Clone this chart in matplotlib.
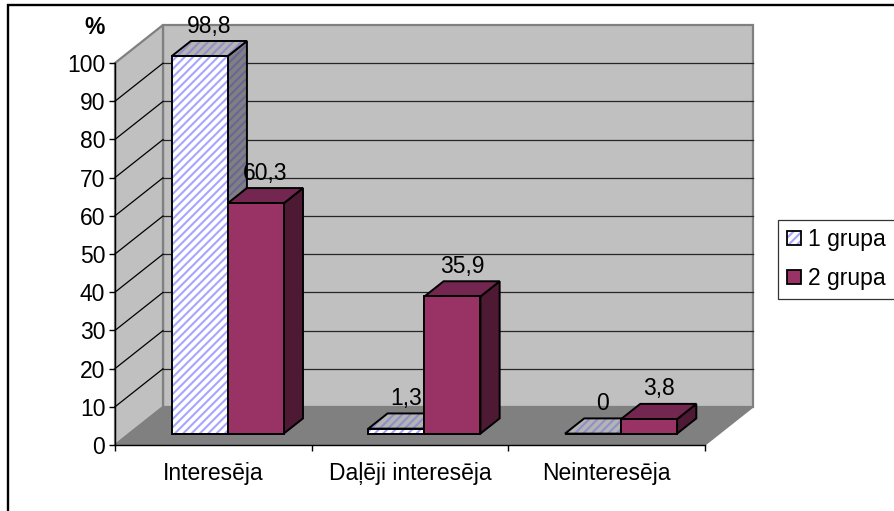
import matplotlib
matplotlib.use('Agg')
import matplotlib.pyplot as plt
from matplotlib.legend_handler import HandlerBase
from matplotlib.patches import Patch, Polygon, Rectangle
from matplotlib.transforms import Affine2D

plt.rcParams['font.family'] = ['Liberation Sans', 'DejaVu Sans']
plt.rcParams['hatch.linewidth'] = 1.5

W, H = 894, 511
LEFT, RIGHT, BOTTOM, TOP = 115, 705, 445, 63

# full depth of the floor in pixels
DEPTH_X = 48
DEPTH_Y = 38

categories = ['Interesēja', 'Daļēji interesēja', 'Neinteresēja']
series_names = ['1 grupa', '2 grupa']
group1 = [98.8, 1.3, 0]
group2 = [60.3, 35.9, 3.8]
y_ticks = [0, 10, 20, 30, 40, 50, 60, 70, 80, 90, 100]

WALL = '#c0c0c0'
FLOOR = '#808080'
WALL_EDGE = '#808080'
BAR_W = 0.285
FS = 16.5

fig = plt.figure(figsize=(W / 100, H / 100), dpi=100, facecolor='white')
# only the left and top edges of the chart frame fall inside the image
fig.add_artist(plt.Line2D([8 / W, 8 / W, 1], [0, 1 - 5 / H, 1 - 5 / H], transform=fig.transFigure,
                          color='black', lw=1.7, solid_joinstyle='miter'))

ax = fig.add_axes([LEFT / W, 1 - BOTTOM / H, (RIGHT - LEFT) / W, (BOTTOM - TOP) / H])
ax.set_xlim(0, 3)
ax.set_ylim(0, 100)
ax.patch.set_visible(False)


def at_depth(f, up=0):
    # data transform pushed back by a fraction f of the floor depth
    return ax.transData + Affine2D().translate(DEPTH_X * f, DEPTH_Y * f + up)


def face(points, f0, f1, fc, ec='black', hatch=None, lw=1.4, z=5):
    # quad between two depths: points are (x, y, use_back)
    fr = at_depth(f0)
    bk = at_depth(f1)
    disp = [(bk if b else fr).transform((x, y)) for x, y, b in points]
    pts = fig.dpi_scale_trans.inverted().transform(disp)
    if hatch:
        ax.add_patch(Polygon(pts, closed=True, transform=fig.dpi_scale_trans, fc=fc, ec=ec[1],
                             hatch=hatch, lw=0, zorder=z, clip_on=False))
        ax.add_patch(Polygon(pts, closed=True, transform=fig.dpi_scale_trans, fc='none', ec=ec[0],
                             lw=lw, zorder=z, clip_on=False))
    else:
        ax.add_patch(Polygon(pts, closed=True, transform=fig.dpi_scale_trans, fc=fc, ec=ec,
                             lw=lw, zorder=z, clip_on=False))


# walls and floor
face([(0, 0, 1), (3, 0, 1), (3, 100, 1), (0, 100, 1)], 0, 1, WALL, ec=WALL_EDGE, lw=1.6, z=1)
face([(0, 0, 0), (0, 100, 0), (0, 100, 1), (0, 0, 1)], 0, 1, WALL, ec=WALL_EDGE, lw=1.6, z=1)
face([(0, 0, 0), (3, 0, 0), (3, 0, 1), (0, 0, 1)], 0, 1, FLOOR, ec=FLOOR, lw=1, z=1)

# gridlines run along the side wall and then the back wall
for v in y_ticks[1:-1]:
    ax.plot([0, 3], [v, v], color='#262626', lw=0.9, transform=at_depth(1), zorder=2, clip_on=False)
    p0 = at_depth(0).transform((0, v))
    p1 = at_depth(1).transform((0, v))
    ax.plot(*zip(p0, p1), color='black', lw=0.9, transform=None, zorder=2, clip_on=False)


def draw_bar(x0, value, style, z):
    x1 = x0 + BAR_W
    side = [(x1, 0, 0), (x1, 0, 1), (x1, value, 1), (x1, value, 0)]
    top = [(x0, value, 0), (x1, value, 0), (x1, value, 1), (x0, value, 1)]
    front = [(x0, 0, 0), (x1, 0, 0), (x1, value, 0), (x0, value, 0)]
    if style == 1:
        face(side, 0.3, 0.7, '#808080', ec=('black', '#66669a'), hatch='////', z=z)
        face(top, 0.3, 0.7, '#b4b4b4', ec=('black', '#8f8fca'), hatch='////', z=z)
        face(front, 0.3, 0.7, 'white', ec=('black', '#a6a6ff'), hatch='////', z=z)
    else:
        face(side, 0.3, 0.7, '#4d1933', z=z)
        face(top, 0.3, 0.7, '#732650', z=z)
        face(front, 0.3, 0.7, '#993366', z=z)


for i in range(len(categories)):
    draw_bar(i + 0.5 - BAR_W, group1[i], 1, 5 + i)
    draw_bar(i + 0.5, group2[i], 2, 5 + i)
    for x, v in ((i + 0.5 - BAR_W / 2, group1[i]), (i + 0.5 + BAR_W / 2, group2[i])):
        ax.text(x, v, f'{v:g}'.replace('.', ','), transform=at_depth(0.5, up=11), ha='center', va='bottom',
                fontsize=FS, zorder=20, clip_on=False)

for name in ('top', 'right'):
    ax.spines[name].set_visible(False)
for name in ('left', 'bottom'):
    ax.spines[name].set_zorder(3)
    ax.spines[name].set_linewidth(1.0)

ax.set_yticks(y_ticks)
ax.set_xticks([0, 1, 2, 3])
ax.set_xticklabels([])
ax.set_xticks([0.5, 1.5, 2.5], minor=True)
ax.set_xticklabels(categories, minor=True)
ax.tick_params(axis='x', which='minor', length=0, labelsize=FS, pad=12.5)
ax.tick_params(axis='x', which='major', length=4, width=1)
ax.tick_params(axis='y', length=4, width=1, labelsize=FS, pad=3)

fig.text(95 / W, 1 - 27 / H, '%', fontsize=FS, fontweight='bold', ha='center', va='center')


class SwatchHandler(HandlerBase):
    def create_artists(self, legend, orig, xd, yd, width, height, fontsize, trans):
        size = 10
        x, y = -xd, (height - size) / 2 - yd
        parts = []
        if orig.get_hatch():
            parts.append(Rectangle((x, y), size, size, fc='white', ec='#a6a6ff', hatch='////', lw=0, transform=trans))
        else:
            parts.append(Rectangle((x, y), size, size, fc=orig.get_facecolor(), lw=0, transform=trans))
        parts.append(Rectangle((x, y), size, size, fc='none', ec='black', lw=1.3, transform=trans))
        return parts


handles = [Patch(facecolor='white', hatch='////', label=series_names[0]),
           Patch(facecolor='#993366', label=series_names[1])]
leg = fig.legend(handles=handles, loc='center left', bbox_to_anchor=(778 / W, 1 - 259 / H),
                 fontsize=FS, frameon=True, fancybox=False, edgecolor='#333333', framealpha=1,
                 handler_map={Patch: SwatchHandler()}, handlelength=0.62, handletextpad=0.32,
                 labelspacing=0.68, borderpad=0.38, borderaxespad=0)
leg.get_frame().set_linewidth(0.9)

fig.savefig('out.png', dpi=100)
